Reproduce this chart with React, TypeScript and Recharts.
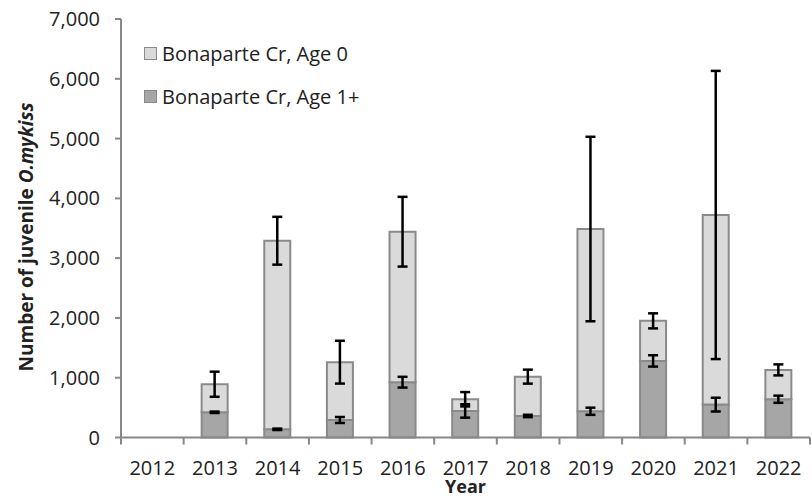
import React from "react";
import {
  Bar,
  BarChart,
  ErrorBar,
  Label,
  XAxis,
  YAxis,
} from "recharts";

const years = ["2012", "2013", "2014", "2015", "2016", "2017", "2018", "2019", "2020", "2021", "2022"];
// stacked: age 1+ at the bottom, age 0 on top
const age1 = [null, 422, 137, 293, 925, 444, 360, 439, 1281, 550, 640];
const age1Err = [null, 12, 12, 50, 90, 112, 20, 60, 95, 115, 60];
const age0 = [null, 469, 3154, 967, 2517, 196, 658, 3048, 670, 3172, 491];
const age0Err = [null, 210, 400, 358, 583, 120, 117, 1543, 126, 2410, 92];
const yTicks = [0, 1000, 2000, 3000, 4000, 5000, 6000, 7000];
const seriesNames = ["Bonaparte Cr, Age 0", "Bonaparte Cr, Age 1+"];

const data = years.map((year, i) => ({
  year,
  age1: age1[i],
  age1Err: age1Err[i],
  age0: age0[i],
  age0Err: age0Err[i],
}));

const FONT = "'Open Sans', sans-serif";
const AXIS = "#878787";
const LIGHT = "#dadada";
const DARK = "#a6a6a6";
const EDGE = "#8a8a8a";

function XTick(props: any) {
  const { x, y, payload, index } = props;
  const half = payload && payload.offset ? payload.offset : 31.3;
  return (
    <g>
      <line x1={x - half} x2={x - half} y1={y} y2={y + 7} stroke={AXIS} strokeWidth={2} />
      {index === years.length - 1 && (
        <line x1={x + half} x2={x + half} y1={y} y2={y + 7} stroke={AXIS} strokeWidth={2} />
      )}
      <text x={x} y={y + 37} textAnchor="middle" fill="#222" fontSize={20} fontFamily={FONT}>
        {payload.value}
      </text>
    </g>
  );
}

// legend drawn as an overlay inside the plot, top-left
function LegendBox() {
  const fills = [LIGHT, DARK];
  return (
    <div
      style={{
        position: "absolute",
        left: 144,
        top: 32,
        fontFamily: FONT,
        fontSize: 20,
        color: "#222",
        pointerEvents: "none",
      }}
    >
      {seriesNames.map((name, i) => (
        <div key={name} style={{ display: "flex", alignItems: "center", height: 43, whiteSpace: "nowrap" }}>
          <span
            style={{
              display: "inline-block",
              width: 11,
              height: 11,
              background: fills[i],
              border: `1.5px solid ${EDGE}`,
              marginRight: 5,
            }}
          />
          {name}
        </div>
      ))}
    </div>
  );
}

export default function App() {
  return (
    <div style={{ position: "absolute", left: 0, top: 0, width: 812, height: 498, background: "#fff" }}>
      <BarChart
        width={812}
        height={498}
        data={data}
        margin={{ top: 19, right: 2, bottom: 0, left: 0 }}
        barSize={26}
      >
        <XAxis
          dataKey="year"
          interval={0}
          tickSize={0}
          tickMargin={0}
          tick={<XTick />}
          axisLine={{ stroke: AXIS, strokeWidth: 2 }}
          height={60.5}
        >
          <Label
            content={({ viewBox }: any) => (
              <text
                x={viewBox.x + viewBox.width / 2}
                y={viewBox.y + 55}
                textAnchor="middle"
                fontFamily={FONT}
                fontWeight="bold"
                fontSize={18}
                fill="#222"
              >
                Year
              </text>
            )}
          />
        </XAxis>
        <XAxis
          xAxisId="top"
          dataKey="year"
          orientation="top"
          height={0}
          tick={false}
          tickLine={false}
          axisLine={{ stroke: AXIS, strokeWidth: 2 }}
        />
        <YAxis
          domain={[0, 7000]}
          ticks={yTicks}
          width={121}
          tickSize={6}
          tickMargin={15}
          tickFormatter={(v: number) => v.toLocaleString("en-US")}
          tick={{ fill: "#222", fontSize: 20, fontFamily: FONT }}
          tickLine={{ stroke: AXIS, strokeWidth: 2 }}
          axisLine={{ stroke: AXIS, strokeWidth: 2 }}
        >
          <Label
            content={({ viewBox }: any) => {
              const cx = viewBox.x + 33;
              const cy = 237;
              return (
                <text
                  x={cx}
                  y={cy}
                  transform={`rotate(-90 ${cx} ${cy})`}
                  textAnchor="middle"
                  fontFamily={FONT}
                  fontWeight="bold"
                  fontSize={19}
                  fill="#222"
                >
                  Number of juvenile <tspan fontStyle="italic">O.mykiss</tspan>
                </text>
              );
            }}
          />
        </YAxis>
        <YAxis
          yAxisId="right"
          orientation="right"
          domain={[0, 7000]}
          width={0}
          tick={false}
          tickLine={false}
          axisLine={{ stroke: AXIS, strokeWidth: 2 }}
        />
        <Bar
          dataKey="age1"
          name={seriesNames[1]}
          stackId="a"
          fill={DARK}
          stroke={EDGE}
          strokeWidth={2}
          isAnimationActive={false}
        >
          <ErrorBar dataKey="age1Err" width={5} stroke="#000" strokeWidth={2.5} direction="y" />
        </Bar>
        <Bar
          dataKey="age0"
          name={seriesNames[0]}
          stackId="a"
          fill={LIGHT}
          stroke={EDGE}
          strokeWidth={2}
          isAnimationActive={false}
        >
          <ErrorBar dataKey="age0Err" width={5} stroke="#000" strokeWidth={2.5} direction="y" />
        </Bar>
      </BarChart>
      <LegendBox />
    </div>
  );
}
